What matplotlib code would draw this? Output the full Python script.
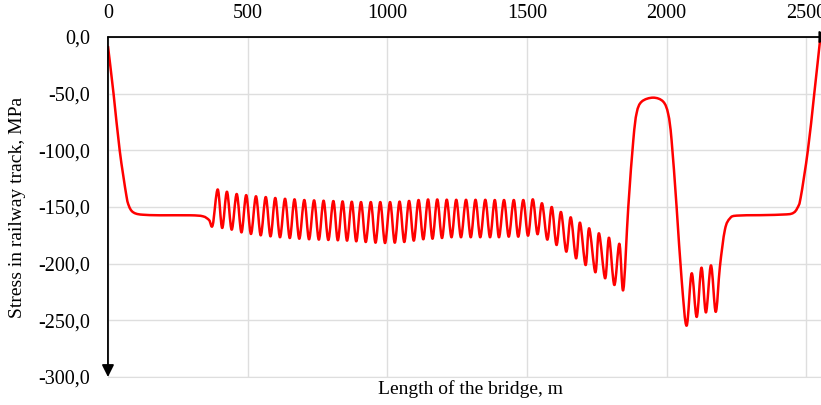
import matplotlib.pyplot as plt
from matplotlib.path import Path
from matplotlib.patches import PathPatch

# Tramo inicial (m, MPa)
inicio_x = [0, 20, 42, 66, 75, 85, 100, 125, 186, 294, 340, 362, 375]
inicio_y = [-8, -50, -100, -140, -149, -153.5, -155.8, -156.8, -157.3, -157.3, -158.2, -161.5, -166]

# Crestas de las oscilaciones
picos_x = [393, 426, 461, 495, 530, 565, 599, 634, 668, 703, 738, 772, 807, 840,
           873, 906, 941, 975, 1010, 1044, 1078, 1112, 1146, 1179, 1213, 1247, 1282,
           1316, 1351, 1385, 1418, 1453, 1487, 1521, 1554, 1589, 1622, 1657, 1690,
           1723, 1758, 1794, 1831]
picos_y = [-134.5, -136.5, -138.5, -139.5, -140.5, -141.2, -142, -142.7, -143.2,
           -143.8, -144.1, -144.4, -144.7, -145, -145.3, -145.6, -145.6, -145.6,
           -145.6, -145.2, -144.6, -143.8, -143.3, -143.3, -143.5, -143.6, -143.6,
           -143.6, -143.6, -143.8, -143.8, -143.8, -143.8, -143.2, -146.7, -150,
           -154.4, -159.1, -163.8, -168.8, -173.2, -177.1, -182.4]

# Valles de las oscilaciones
valles_x = [409, 443, 478, 512, 547, 582, 616, 651, 685, 720, 755, 789, 823, 856,
            889, 923, 958, 992, 1027, 1061, 1095, 1129, 1162, 1196, 1230, 1264,
            1299, 1333, 1368, 1400, 1435, 1469, 1504, 1538, 1573, 1606, 1641, 1676,
            1710, 1745, 1780, 1813, 1845]
valles_y = [-168.5, -170, -172.4, -173.8, -175, -175.9, -176.7, -177.4, -178, -178.5,
            -178.8, -179.1, -179.4, -179.7, -180.3, -180.9, -181.5, -181.8, -181.5,
            -180.9, -179.7, -178.5, -178, -177.4, -176.7, -176.7, -176.7, -176.7,
            -176.7, -176.7, -176.2, -176.2, -175.3, -174, -178.8, -183.5, -189.4,
            -195.3, -201.2, -207.6, -212.9, -218.8, -223.2]

# Tramo final
final_x = [1863, 1881, 1893, 1911, 1952, 1988, 2006, 2018, 2036, 2054,
           2072, 2090, 2108, 2125, 2141, 2159, 2176, 2191, 2209, 2227, 2251, 2335,
           2430, 2455, 2468, 2480, 2506, 2528, 2550]
final_y = [-150, -91, -67, -57, -53.5, -57, -68, -91, -150, -214,
           -254.7, -208.5, -247, -203.5, -243, -201.5, -242.5, -202.7, -170, -160,
           -157.6, -157.2, -156.5, -155, -151, -142, -100, -52, -2]

x_ticks = [0, 500, 1000, 1500, 2000, 2500]
y_ticks = [0, -50, -100, -150, -200, -250, -300]
y_labels = ['0,0', '-50,0', '-100,0', '-150,0', '-200,0', '-250,0', '-300,0']

# Unir los tramos
x = list(inicio_x)
y = list(inicio_y)
for px, py, vx, vy in zip(picos_x, picos_y, valles_x, valles_y):
    x += [px, vx]
    y += [py, vy]
x += final_x
y += final_y


# Linea suavizada tipo Excel (Bezier por Catmull-Rom)
def linea_suave(xs, ys):
    pts = list(zip(xs, ys))
    verts = [pts[0]]
    codes = [Path.MOVETO]
    n = len(pts)
    for i in range(n - 1):
        p0 = pts[i - 1] if i > 0 else pts[i]
        p1 = pts[i]
        p2 = pts[i + 1]
        p3 = pts[i + 2] if i + 2 < n else pts[i + 1]
        c1 = (p1[0] + (p2[0] - p0[0]) / 6, p1[1] + (p2[1] - p0[1]) / 6)
        c2 = (p2[0] - (p3[0] - p1[0]) / 6, p2[1] - (p3[1] - p1[1]) / 6)
        verts += [c1, c2, p2]
        codes += [Path.CURVE4] * 3
    return Path(verts, codes)


plt.rcParams['font.family'] = ['Liberation Serif', 'DejaVu Serif']

fig = plt.figure(figsize=(8.21, 4.05), dpi=100)
ax = fig.add_axes([0.1315, 0.0691, 0.8685, 0.8395])

ax.add_patch(PathPatch(linea_suave(x, y), facecolor='none', edgecolor='#ff0000',
                       linewidth=1.8, joinstyle='round', zorder=3))

ax.set_xlim(0, 2553)
ax.set_ylim(-300, 0)
ax.xaxis.tick_top()
ax.set_xticks(x_ticks)
ax.set_yticks(y_ticks)
ax.set_yticklabels(y_labels)
ax.tick_params(axis='both', length=0, labelsize=14.5, colors='black')
ax.tick_params(axis='x', pad=10)
ax.tick_params(axis='y', pad=13)
ax.grid(True, color='#dedede', linewidth=1)
ax.set_axisbelow(True)

for lado in ['left', 'right', 'top']:
    ax.spines[lado].set_visible(False)
ax.spines['bottom'].set_color('#dedede')

# Ejes con flechas
ax.annotate('', xy=(0, -300), xytext=(0, 0), annotation_clip=False,
            arrowprops=dict(arrowstyle='-|>', color='black', lw=1.3,
                            mutation_scale=18, shrinkA=0, shrinkB=0))
ax.annotate('', xy=(2590, 0), xytext=(0, 0), annotation_clip=False,
            arrowprops=dict(arrowstyle='-|>', color='black', lw=1.3,
                            mutation_scale=18, shrinkA=0, shrinkB=0))

fig.text(471 / 821, 1 - 389 / 405, 'Length of the bridge, m', ha='center', va='center', fontsize=14)
fig.text(18 / 821, 1 - 207 / 405, 'Stress in railway track, MPa', ha='center', va='center',
         rotation=90, fontsize=14)

fig.savefig('out.png', dpi=100)
